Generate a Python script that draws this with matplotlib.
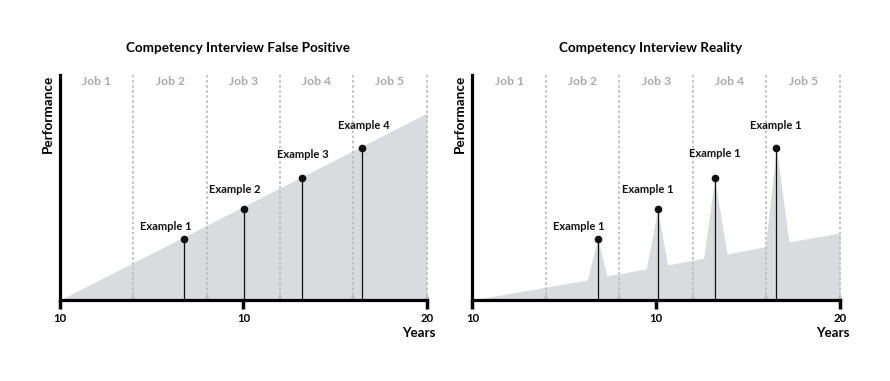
import matplotlib
matplotlib.use("Agg")
import matplotlib.pyplot as plt

plt.rcParams['font.family'] = ['Lato', 'DejaVu Sans']

# ---- data ----
tick_pos = [0, 5, 10]
tick_labels = ["10", "10", "20"]
job_bounds = [2, 4, 6, 8, 10]
job_centers = [1, 3, 5, 7, 9]
job_labels = ["Job 1", "Job 2", "Job 3", "Job 4", "Job 5"]

fp_x = [0, 10]
fp_y = [0, 83]
fp_ex_x = [3.39, 5.02, 6.59, 8.24]
fp_ex_y = [27.1, 40.6, 54.1, 67.7]
fp_lab_x = [2.89, 4.76, 6.62, 8.29]
fp_lab_y = [32.6, 49.2, 64.8, 77.5]
fp_labels = ["Example 1", "Example 2", "Example 3", "Example 4"]

re_x = [0, 3.125, 3.41, 3.66, 4.73, 5.04, 5.31, 6.29, 6.59, 6.93, 7.97, 8.27, 8.61, 10]
re_y = [0, 8.9, 27.2, 10.7, 13.8, 40.4, 15.6, 18.5, 53.8, 20.4, 23.7, 67.7, 25.8, 29.8]
re_ex_x = [3.41, 5.04, 6.59, 8.27]
re_ex_y = [27.1, 40.6, 54.1, 67.7]
re_lab_x = [2.91, 4.76, 6.60, 8.26]
re_lab_y = [32.6, 49.2, 65.0, 77.5]
re_labels = ["Example 1", "Example 1", "Example 1", "Example 1"]

titles = ["Competency Interview False Positive", "Competency Interview Reality"]

FILL = "#d9dbde"
GRID = "#bdbdbd"
JOB = "#aaaaaa"
INK = "#111111"

W, H = 890, 381
fig = plt.figure(figsize=(W / 100, H / 100), dpi=100)

def px_axes(x0, x1, ytop, ybot):
    return [x0 / W, 1 - ybot / H, (x1 - x0) / W, (ybot - ytop) / H]

ax1 = fig.add_axes(px_axes(60, 426.7, 75, 300))
ax2 = fig.add_axes(px_axes(472.3, 840, 75, 300))

panels = [
    (ax1, fp_x, fp_y, fp_ex_x, fp_ex_y, fp_lab_x, fp_lab_y, fp_labels),
    (ax2, re_x, re_y, re_ex_x, re_ex_y, re_lab_x, re_lab_y, re_labels),
]

for i, (ax, fx, fy, ex, ey, lx, ly, labs) in enumerate(panels):
    ax.set_xlim(0, 10)
    ax.set_ylim(0, 100)
    ax.fill_between(fx, fy, 0, color=FILL, linewidth=0, zorder=1)
    for b in job_bounds:
        ax.plot([b, b], [0, 100], color=GRID, linewidth=1.3,
                linestyle=(0, (1.4, 1.4)), zorder=2, clip_on=False)
        ax.plot([b], [1.2], marker="^", markersize=5, color=GRID,
                markeredgewidth=0, zorder=2, clip_on=False)
    for c, t in zip(job_centers, job_labels):
        ax.text(c, 97, t, ha="center", va="center", fontsize=8.7,
                color=JOB, fontweight="bold")
    for x, y in zip(ex, ey):
        ax.plot([x, x], [0, y], color=INK, linewidth=0.9, zorder=3)
        ax.plot([x], [y], marker="o", markersize=4.5, color=INK, zorder=4)
    for x, y, t in zip(lx, ly, labs):
        ax.text(x, y, t, ha="center", va="center", fontsize=8.0,
                color=INK, fontweight="bold")
    for s in ["top", "right"]:
        ax.spines[s].set_visible(False)
    for s in ["left", "bottom"]:
        ax.spines[s].set_linewidth(2.3)
        ax.spines[s].set_color("black")
        ax.spines[s].set_zorder(5)
    ax.set_yticks([])
    ax.set_xticks(tick_pos)
    ax.set_xticklabels(tick_labels, fontweight="bold", fontsize=8.2)
    ax.tick_params(axis="x", length=6.5, width=2.5, pad=3, color="black")
    ax.set_ylabel("Performance", fontweight="bold", fontsize=9.7, labelpad=5)
    ax.yaxis.set_label_coords(-0.033, 1.0)
    ax.yaxis.label.set_va("center")
    ax.yaxis.label.set_ha("right")
    ax.text(1.025, -0.145, "Years", transform=ax.transAxes, ha="right",
            va="center", fontsize=9.6, fontweight="bold")

fig.text(238 / W, 1 - 48 / H, titles[0], ha="center", va="center",
         fontsize=9.7, fontweight="bold")
fig.text(651 / W, 1 - 48 / H, titles[1], ha="center", va="center",
         fontsize=9.7, fontweight="bold")

fig.savefig("out.png", dpi=100)
